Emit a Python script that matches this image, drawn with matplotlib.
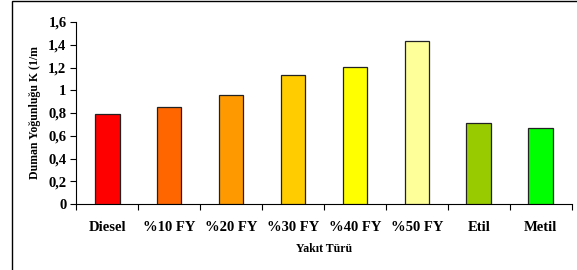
import matplotlib.pyplot as plt
from matplotlib.patches import Rectangle
from matplotlib.ticker import FuncFormatter, FixedLocator
import numpy as np

plt.rcParams['font.family'] = ['Liberation Serif', 'DejaVu Serif']
plt.rcParams['font.weight'] = 'bold'

# data
fuels = ['Diesel', '%10 FY', '%20 FY', '%30 FY', '%40 FY', '%50 FY', 'Etil', 'Metil']
smoke = [0.79, 0.85, 0.96, 1.13, 1.205, 1.43, 0.715, 0.665]
colors = ['#FF0000', '#FF6600', '#FF9900', '#FFCC00', '#FFFF00', '#FFFF99', '#99CC00', '#00FF00']

fig = plt.figure(figsize=(5.77, 2.70), dpi=100)
ax = fig.add_axes([0.132, 0.2444, 0.859, 0.6741])

x = np.arange(len(fuels))
ax.bar(x, smoke, width=0.4, color=colors, edgecolor='#222222', linewidth=0.9, zorder=3)

ax.set_xlim(-0.5, len(fuels) - 0.5)
ax.set_ylim(0, 1.6)
ax.set_yticks(np.arange(0, 1.61, 0.2))
ax.yaxis.set_major_formatter(FuncFormatter(lambda v, p: ('%g' % round(v, 1)).replace('.', ',')))

ax.set_xticks(x)
ax.set_xticklabels(fuels)
ax.xaxis.set_minor_locator(FixedLocator(np.arange(-0.5, len(fuels), 1.0)))
ax.tick_params(axis='x', which='major', length=0, pad=12, labelsize=10.5)
ax.tick_params(axis='x', which='minor', length=4, direction='out', width=0.8)
ax.tick_params(axis='y', length=4, direction='out', width=0.8, labelsize=10.5, pad=3)

for s in ['top', 'right']:
    ax.spines[s].set_visible(False)
for s in ['left', 'bottom']:
    ax.spines[s].set_linewidth(0.8)

ax.set_ylabel('Duman Yoğunluğu K (1/m', fontsize=8.5, fontweight='bold', labelpad=5)
ax.set_xlabel('Yakıt Türü', fontsize=8.5, fontweight='bold', labelpad=7)

# outer chart border
fig.patches.append(Rectangle((0.021, -0.1), 1.2, 1.096, transform=fig.transFigure,
                             fill=False, edgecolor='black', linewidth=1.0, zorder=0))

plt.savefig('out.png', dpi=100)
